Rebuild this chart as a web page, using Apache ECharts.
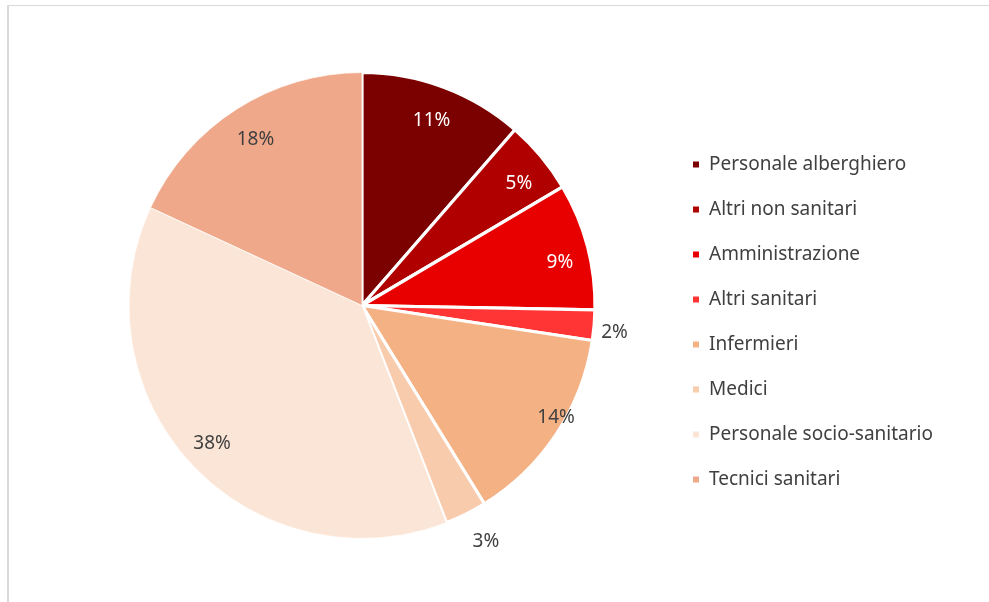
<!DOCTYPE html>
<html>
<head>
<meta charset="utf-8">
<script src="https://cdn.jsdelivr.net/npm/echarts@6/dist/echarts.min.js"></script>
<style>
  html, body { margin: 0; padding: 0; background: #fff; }
  #frame { position: absolute; left: 7px; top: 5px; width: 980px; height: 600px;
           border-left: 2px solid #d9d9d9; border-top: 1px solid #d9d9d9; }
  #chart { position: absolute; left: 0; top: 0; width: 989px; height: 602px; }
</style>
</head>
<body>
<div id="frame"></div>
<div id="chart"></div>
<script>
// categorie e quote (%)
const categories = ['Personale alberghiero', 'Altri non sanitari', 'Amministrazione', 'Altri sanitari',
  'Infermieri', 'Medici', 'Personale socio-sanitario', 'Tecnici sanitari']
const shares = [11.4, 5.1, 8.8, 2.1, 13.8, 2.9, 37.8, 18.1]
const colors = ['#7b0000', '#b00000', '#e80000', '#ff3535', '#f4b183', '#f8cbad', '#fbe5d6', '#f0a88a']
// etichette bianche sulle fette scure, fuori per le fette piccole
const whiteLabel = [true, true, true, false, false, false, false, false]
const outsideLabel = [false, false, false, true, false, true, false, false]
// spostamenti fini delle etichette
const labelOffset = { 0: [-1, 4], 1: [2, 7], 2: [3, 8], 3: [-2, 7], 4: [26, 1], 5: [0, 24], 6: [-3, 0], 7: [2, 4] }

const fontFamily = '"Noto Sans", "Liberation Sans", sans-serif'
const cx = 362
const cy = 305.5

const mainData = categories.map((name, i) => ({
  name,
  value: shares[i],
  itemStyle: {
    color: colors[i],
    borderColor: '#fff',
    borderWidth: i >= 6 ? 0.8 : 3.2
  }
}))

// anello trasparente che serve solo a posizionare le etichette
const labelData = categories.map((name, i) => ({
  name,
  value: shares[i],
  label: {
    position: outsideLabel[i] ? 'outside' : 'inside',
    offset: labelOffset[i] || [0, 0],
    color: whiteLabel[i] ? '#fff' : '#404040'
  },
  labelLine: { show: false, length: 4, length2: 0 }
}))

const chart = echarts.init(document.getElementById('chart'), null, { renderer: 'canvas' })
chart.setOption({
  animation: false,
  legend: {
    orient: 'vertical',
    left: 691,
    top: 153,
    padding: 0,
    itemWidth: 8,
    itemHeight: 8,
    itemGap: 22,
    icon: 'rect',
    data: categories,
    textStyle: {
      color: '#404040',
      fontSize: 19,
      fontFamily,
      lineHeight: 23,
      padding: [0, 0, 0, 4]
    }
  },
  series: [
    {
      name: 'main',
      type: 'pie',
      center: [cx, cy],
      radius: [0, 233],
      startAngle: 90,
      clockwise: true,
      silent: true,
      label: { show: false },
      labelLine: { show: false },
      data: mainData
    },
    {
      name: 'labels',
      type: 'pie',
      center: [cx, cy],
      radius: [164, 233],
      startAngle: 90,
      clockwise: true,
      silent: true,
      itemStyle: { color: 'rgba(0,0,0,0)', borderWidth: 0 },
      label: {
        show: true,
        fontSize: 19,
        fontFamily,
        formatter: p => Math.round(p.percent) + '%'
      },
      data: labelData
    }
  ]
})
</script>
</body>
</html>
